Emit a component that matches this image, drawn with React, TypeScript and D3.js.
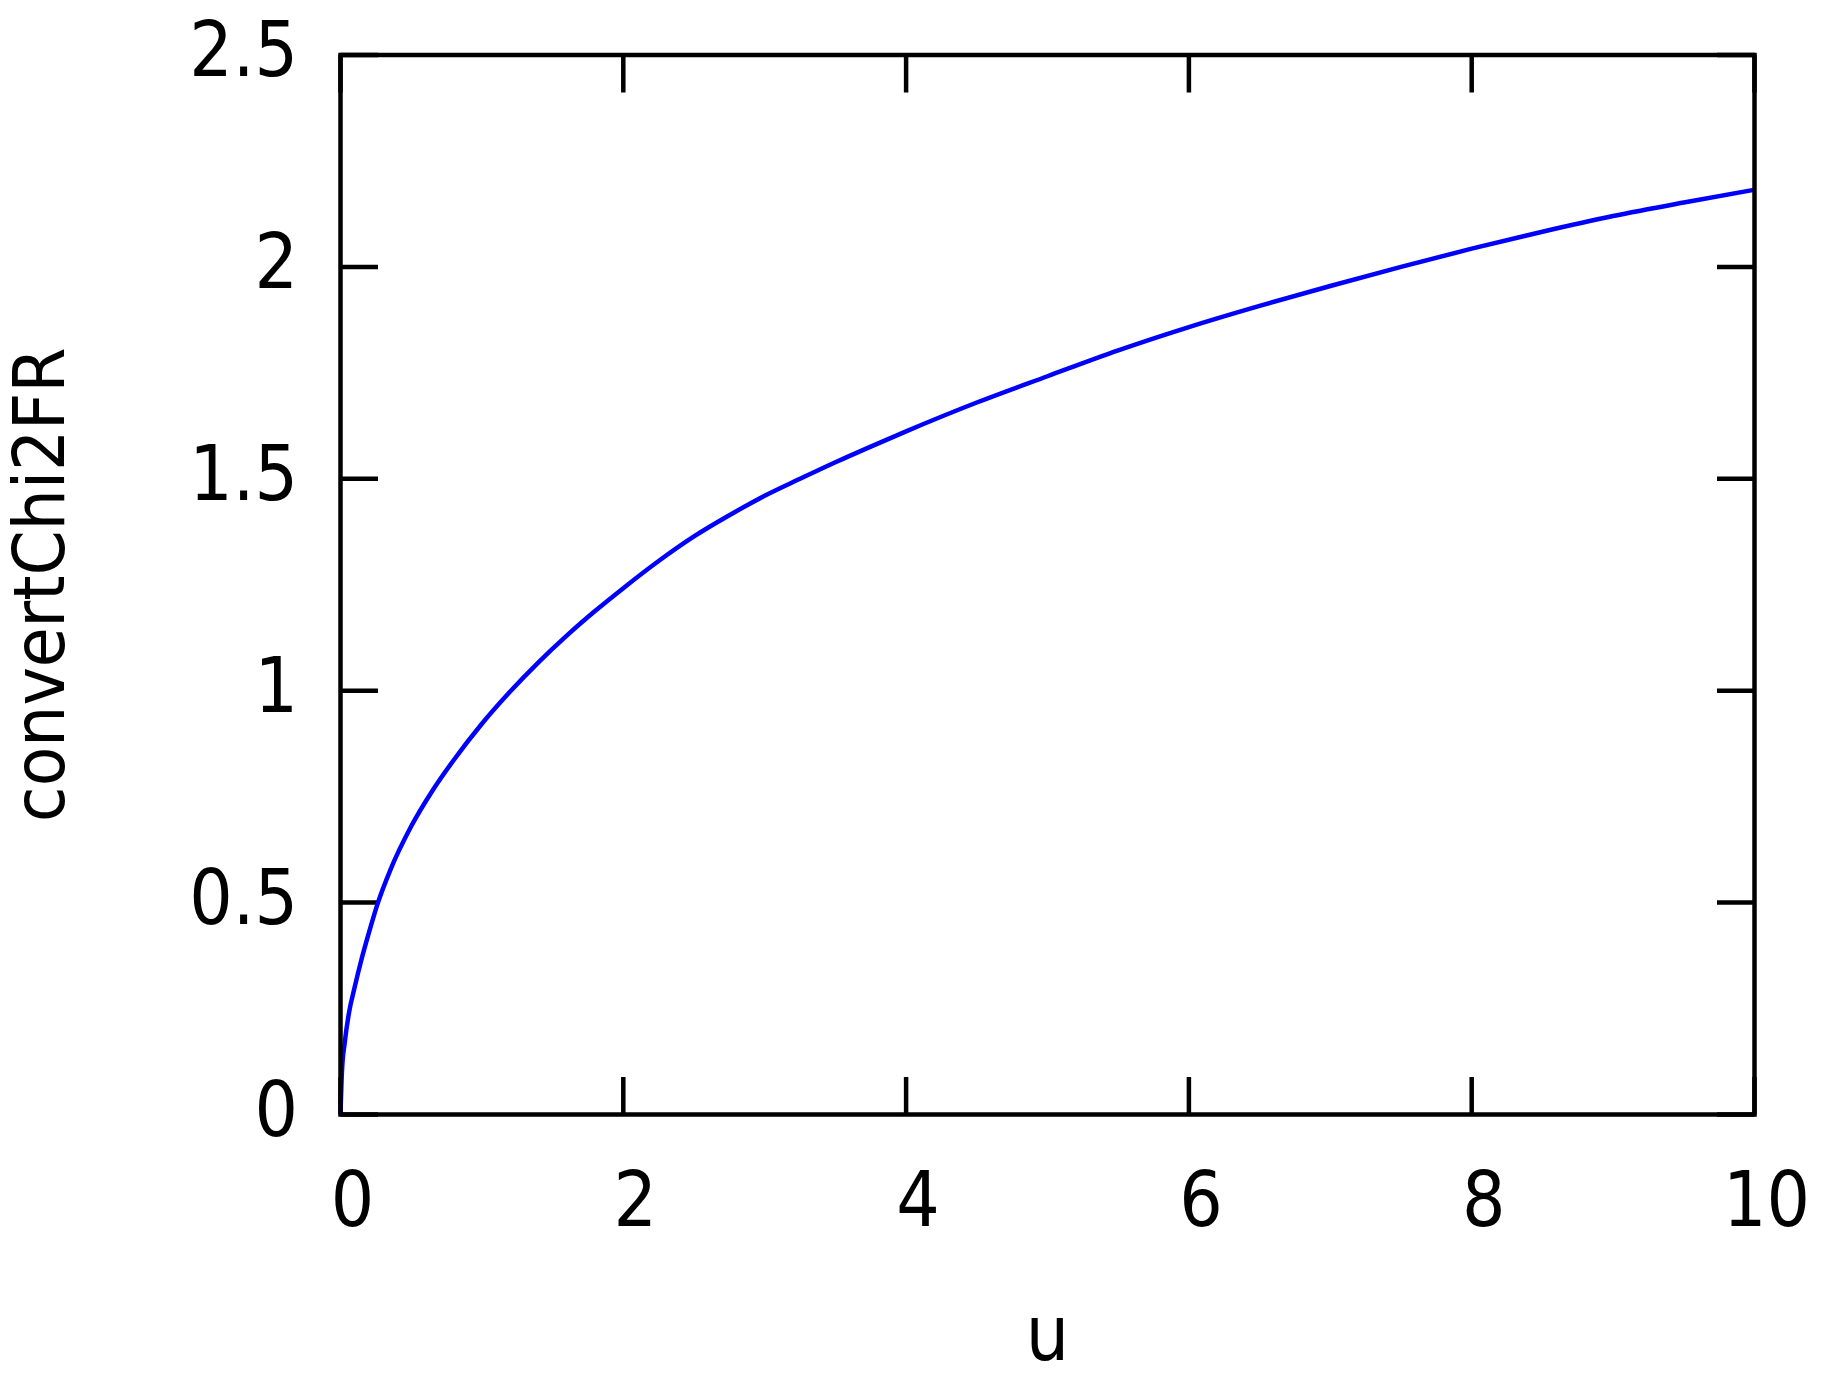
import React, { useEffect, useRef } from "react";
import * as d3 from "d3";

// curve
const uValues = [
  0, 0.01, 0.03, 0.06, 0.1, 0.15, 0.2, 0.265, 0.35, 0.5, 0.65, 0.8, 1.0, 1.2,
  1.4, 1.6, 1.8, 2.0, 2.25, 2.5, 2.75, 3.0, 3.25, 3.5, 3.75, 4.0, 4.5, 5.0,
  5.5, 6.0, 6.5, 7.0, 7.5, 8.0, 8.5, 9.0, 9.5, 10,
];
const chiValues = [
  0, 0.1, 0.17, 0.24, 0.3, 0.368, 0.428, 0.5, 0.575, 0.68, 0.764, 0.836, 0.922,
  0.998, 1.067, 1.13, 1.188, 1.242, 1.306, 1.364, 1.414, 1.46, 1.5, 1.539,
  1.576, 1.612, 1.68, 1.742, 1.803, 1.858, 1.908, 1.955, 2.0, 2.043, 2.083,
  2.12, 2.152, 2.182,
];

const xTicks = [0, 2, 4, 6, 8, 10];
const yTicks = [0, 0.5, 1, 1.5, 2, 2.5];

const xLabel = "u";
const yLabel = "convertChi2FR";

const App = () => {
  const svgRef = useRef<SVGSVGElement>(null);

  useEffect(() => {
    const width = 1824;
    const height = 1385;
    const margin = { top: 55, right: 69.5, bottom: 270.5, left: 340.5 };
    const font = "'DejaVu Sans Condensed', 'DejaVu Sans', sans-serif";

    const svg = d3.select(svgRef.current);
    svg.selectAll("*").remove();
    svg.attr("width", width).attr("height", height);

    svg.append("rect")
      .attr("width", width)
      .attr("height", height)
      .attr("fill", "white");

    const x = d3.scaleLinear()
      .domain([0, 10])
      .range([margin.left, width - margin.right]);

    const y = d3.scaleLinear()
      .domain([0, 2.5])
      .range([height - margin.bottom, margin.top]);

    const tickLen = 37.5;

    // inward ticks, mirrored on all sides
    const ticks = svg.append("g").attr("stroke", "black").attr("stroke-width", 4.5);
    xTicks.forEach(t => {
      ticks.append("line")
        .attr("x1", x(t)).attr("x2", x(t))
        .attr("y1", y(0)).attr("y2", y(0) - tickLen);
      ticks.append("line")
        .attr("x1", x(t)).attr("x2", x(t))
        .attr("y1", y(2.5)).attr("y2", y(2.5) + tickLen);
    });
    yTicks.forEach(t => {
      ticks.append("line")
        .attr("x1", x(0)).attr("x2", x(0) + tickLen)
        .attr("y1", y(t)).attr("y2", y(t));
      ticks.append("line")
        .attr("x1", x(10)).attr("x2", x(10) - tickLen)
        .attr("y1", y(t)).attr("y2", y(t));
    });

    // curve
    const pts: [number, number][] = uValues.map((u, i) => [u, chiValues[i]]);
    const line = d3.line<[number, number]>()
      .x(d => x(d[0]))
      .y(d => y(d[1]))
      .curve(d3.curveMonotoneX);

    svg.append("path")
      .datum(pts)
      .attr("d", line)
      .attr("fill", "none")
      .attr("stroke", "#0000ff")
      .attr("stroke-width", 4.5);

    // frame
    svg.append("rect")
      .attr("x", x(0))
      .attr("y", y(2.5))
      .attr("width", x(10) - x(0))
      .attr("height", y(0) - y(2.5))
      .attr("fill", "none")
      .attr("stroke", "black")
      .attr("stroke-width", 4.5);

    // tick labels
    svg.append("g")
      .selectAll("text")
      .data(xTicks)
      .join("text")
      .attr("x", d => x(d) + 12)
      .attr("y", y(0) + 111)
      .attr("text-anchor", "middle")
      .style("font-family", font)
      .style("font-size", "76px")
      .text(d => d);

    svg.append("g")
      .selectAll("text")
      .data(yTicks)
      .join("text")
      .attr("x", 298)
      .attr("y", d => y(d) + 21)
      .attr("text-anchor", "end")
      .style("font-family", font)
      .style("font-size", "76px")
      .text(d => d);

    // axis titles
    svg.append("text")
      .attr("x", (x(0) + x(10)) / 2)
      .attr("y", 1360)
      .attr("text-anchor", "middle")
      .style("font-family", font)
      .style("font-size", "76px")
      .text(xLabel);

    svg.append("text")
      .attr("transform", `translate(64,${(y(0) + y(2.5)) / 2}) rotate(-90)`)
      .attr("text-anchor", "middle")
      .style("font-family", font)
      .style("font-size", "72px")
      .text(yLabel);
  }, []);

  return (
    <div style={{ position: "absolute", left: 0, top: 0 }}>
      <svg ref={svgRef}></svg>
    </div>
  );
};

export default App;
